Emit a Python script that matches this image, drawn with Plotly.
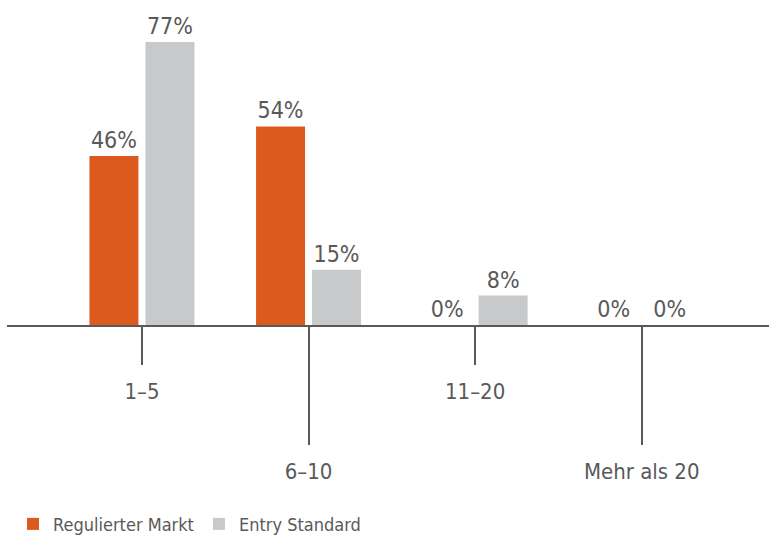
import plotly.graph_objects as go

categories = ["1–5", "6–10", "11–20", "Mehr als 20"]
regulierter = [46, 54, 0, 0]
entry = [77, 15, 8, 0]
series_names = ["Regulierter Markt", "Entry Standard"]
colors = ["#DC5A1E", "#C8C9CB"]

TXT = "#595959"
FONT = "DejaVu Sans Condensed, DejaVu Sans, sans-serif"
xpos = list(range(len(categories)))

fig = go.Figure()
for name, vals, col in zip(series_names, [regulierter, entry], colors):
    fig.add_trace(go.Bar(
        x=xpos, y=vals, name=name, marker_color=col, marker_line_width=0,
        text=[f"{v}%" for v in vals], textposition="outside",
        textfont=dict(size=23, color=TXT, family=FONT),
        constraintext="none", cliponaxis=False,
    ))

short_idx = xpos[0::2]
long_idx = xpos[1::2]

fig.update_layout(
    width=769, height=536,
    margin=dict(l=7, r=0, t=0, b=211, autoexpand=False),
    paper_bgcolor="white", plot_bgcolor="white",
    barmode="group", bargap=0.328, bargroupgap=0.125,
    font=dict(family=FONT, color=TXT, size=22),
    showlegend=True,
    legend=dict(orientation="h", x=13 / 769, xref="container", y=-0.556, yref="paper",
                yanchor="top", xanchor="left",
                font=dict(size=18, color=TXT), itemclick=False),
    xaxis=dict(range=[-0.81, 3.764], showgrid=False, zeroline=False,
               showline=True, linecolor=TXT, linewidth=2, automargin=False,
               tickvals=short_idx, ticktext=[categories[i] for i in short_idx],
               ticks="outside", ticklen=38, tickwidth=2, tickcolor=TXT,
               ticklabelstandoff=8,
               tickfont=dict(size=22, color=TXT)),
    xaxis2=dict(range=[-0.81, 3.764], overlaying="x", anchor="y", side="bottom",
                showgrid=False, zeroline=False, showline=False, automargin=False,
                tickvals=long_idx, ticktext=[categories[i] for i in long_idx],
                ticks="outside", ticklen=119, tickwidth=2, tickcolor=TXT,
                ticklabelstandoff=8,
                tickfont=dict(size=22, color=TXT)),
    yaxis=dict(range=[0, 88.4], visible=False),
)
# invisible trace to activate xaxis2
fig.add_trace(go.Scatter(x=[xpos[0]], y=[0], xaxis="x2", mode="markers",
                         marker=dict(opacity=0), showlegend=False, hoverinfo="skip"))

fig.write_html("out.html", config={"displayModeBar": False},
               post_script="document.body.style.margin='0';")
